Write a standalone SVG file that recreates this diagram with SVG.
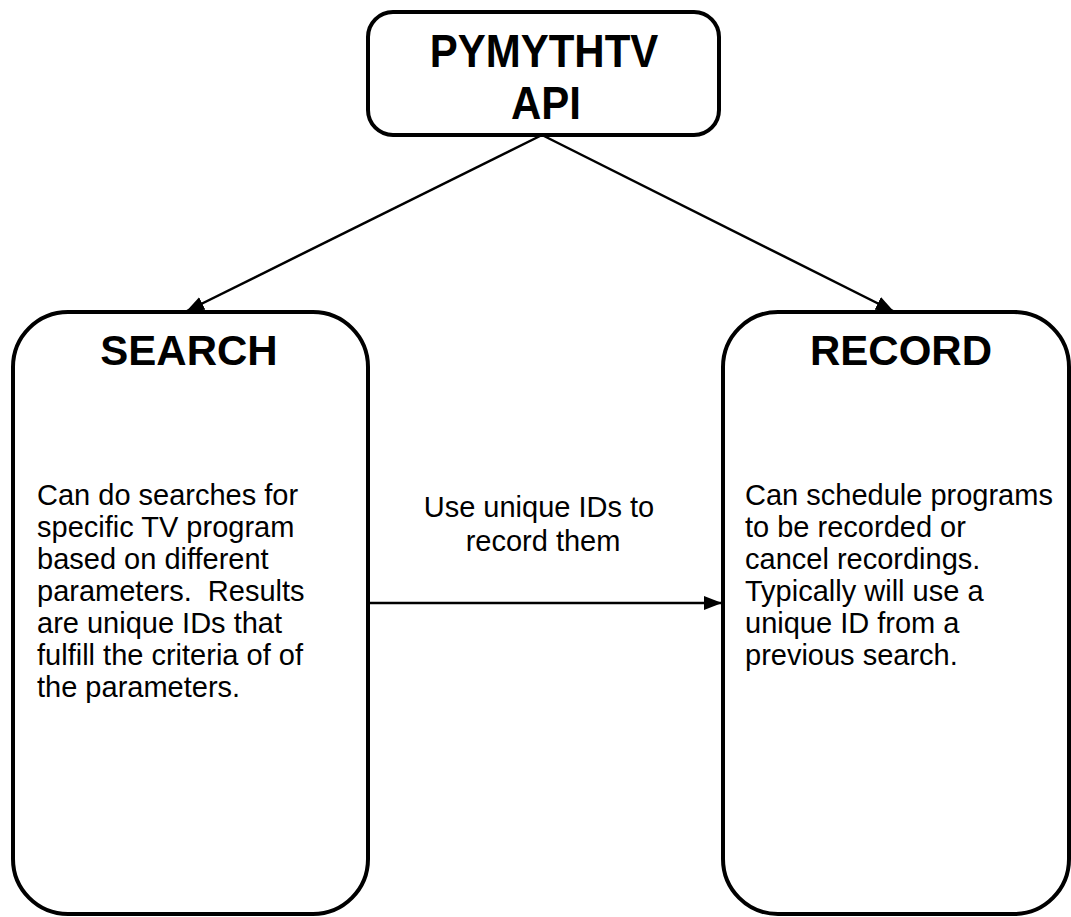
<svg xmlns="http://www.w3.org/2000/svg" width="1071" height="917" viewBox="0 0 1071 917">
<style>
.box{fill:#fff;stroke:#000;stroke-width:4}
.con{stroke:#000;stroke-width:2.5;fill:none}
.h{font-family:"Liberation Sans",Arial,sans-serif;font-weight:bold;font-size:42px;fill:#000;text-anchor:middle}
.b{font-family:"Liberation Sans",Arial,sans-serif;font-size:29px;fill:#000}
.m{font-family:"Liberation Sans",Arial,sans-serif;font-size:29px;fill:#000;text-anchor:middle}
</style>
<defs>
<marker id="arr" markerUnits="userSpaceOnUse" markerWidth="18" markerHeight="14" refX="17" refY="7" orient="auto">
<path d="M0,0 L18,7 L0,14 Z" fill="#000"/>
</marker>
</defs>
<rect width="1071" height="917" fill="#fff"/>
<g id="node-api">
<rect class="box" x="368" y="12" width="351" height="123" rx="25"/>
<text class="h" transform="translate(544,67) scale(1,1.1)">PYMYTHTV</text>
<text class="h" transform="translate(546,119) scale(1,1.1)">API</text>
</g>
<g id="node-search">
<rect class="box" x="13" y="312" width="355" height="602" rx="55"/>
<text class="h" x="189" y="365">SEARCH</text>
<text class="b">
<tspan x="37" y="505">Can do searches for</tspan>
<tspan x="37" y="537">specific TV program</tspan>
<tspan x="37" y="569">based on different</tspan>
<tspan x="37" y="601">parameters.&#160; Results</tspan>
<tspan x="37" y="633">are unique IDs that</tspan>
<tspan x="37" y="665">fulfill the criteria of of</tspan>
<tspan x="37" y="697">the parameters.</tspan>
</text>
</g>
<g id="node-record">
<rect class="box" x="723" y="312" width="346" height="602" rx="55"/>
<text class="h" x="901" y="365">RECORD</text>
<text class="b">
<tspan x="745" y="505">Can schedule programs</tspan>
<tspan x="745" y="537">to be recorded or</tspan>
<tspan x="745" y="569">cancel recordings.</tspan>
<tspan x="745" y="601">Typically will use a</tspan>
<tspan x="745" y="633">unique ID from a</tspan>
<tspan x="745" y="665">previous search.</tspan>
</text>
</g>
<g id="connectors">
<line class="con" x1="542" y1="135" x2="187" y2="311" marker-end="url(#arr)"/>
<line class="con" x1="542" y1="135" x2="893" y2="311" marker-end="url(#arr)"/>
<line class="con" x1="370" y1="603" x2="721" y2="603" marker-end="url(#arr)"/>
<text class="m">
<tspan x="543" y="517">Use unique IDs to</tspan>
<tspan x="543" y="551">record them</tspan>
</text>
</g>
</svg>
